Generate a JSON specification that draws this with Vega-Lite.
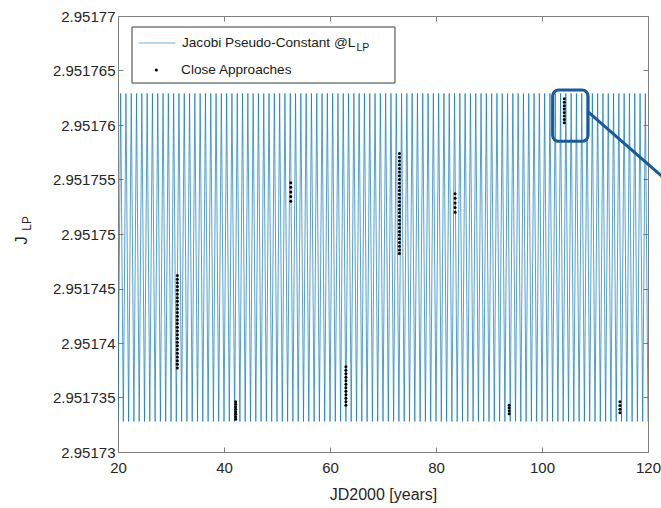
{
  "$schema": "https://vega.github.io/schema/vega-lite/v6.json",
  "autosize": {"type": "none"},
  "padding": {"left": 118, "top": 16, "right": 13, "bottom": 56},
  "width": 530,
  "height": 436,
  "background": "white",
  "config": {
    "font": "Liberation Sans",
    "view": {"stroke": "#808080", "strokeWidth": 1},
    "axis": {
      "grid": false,
      "domain": false,
      "tickColor": "#808080",
      "tickSize": -5,
      "labelFlush": false,
      "labelFontSize": 15,
      "labelColor": "#262626",
      "labelPadding": 8,
      "titleFontSize": 16,
      "titleFontWeight": "normal",
      "titleColor": "#262626"
    },
    "legend": {
      "orient": "none",
      "title": null,
      "direction": "vertical",
      "padding": 0,
      "clipHeight": 16,
      "labelFontSize": 13.6,
      "labelColor": "#1a1a1a",
      "labelLimit": 400
    }
  },
  "datasets": {
    "jacobi": [
      {"t":20,"J":2.9517328},{"t":20.5,"J":2.9517629},{"t":21,"J":2.9517328},{"t":21.5,"J":2.9517629},{"t":22,"J":2.9517328},{"t":22.5,"J":2.9517629},{"t":23,"J":2.9517328},{"t":23.5,"J":2.9517629},{"t":24,"J":2.9517328},{"t":24.5,"J":2.9517629},
      {"t":25,"J":2.9517328},{"t":25.5,"J":2.9517629},{"t":26,"J":2.9517328},{"t":26.5,"J":2.9517629},{"t":27,"J":2.9517328},{"t":27.5,"J":2.9517629},{"t":28,"J":2.9517328},{"t":28.5,"J":2.9517629},{"t":29,"J":2.9517328},{"t":29.5,"J":2.9517629},
      {"t":30,"J":2.9517328},{"t":30.5,"J":2.9517629},{"t":31,"J":2.9517328},{"t":31.5,"J":2.9517629},{"t":32,"J":2.9517328},{"t":32.5,"J":2.9517629},{"t":33,"J":2.9517328},{"t":33.5,"J":2.9517629},{"t":34,"J":2.9517328},{"t":34.5,"J":2.9517629},
      {"t":35,"J":2.9517328},{"t":35.5,"J":2.9517629},{"t":36,"J":2.9517328},{"t":36.5,"J":2.9517629},{"t":37,"J":2.9517328},{"t":37.5,"J":2.9517629},{"t":38,"J":2.9517328},{"t":38.5,"J":2.9517629},{"t":39,"J":2.9517328},{"t":39.5,"J":2.9517629},
      {"t":40,"J":2.9517328},{"t":40.5,"J":2.9517629},{"t":41,"J":2.9517328},{"t":41.5,"J":2.9517629},{"t":42,"J":2.9517328},{"t":42.5,"J":2.9517629},{"t":43,"J":2.9517328},{"t":43.5,"J":2.9517629},{"t":44,"J":2.9517328},{"t":44.5,"J":2.9517629},
      {"t":45,"J":2.9517328},{"t":45.5,"J":2.9517629},{"t":46,"J":2.9517328},{"t":46.5,"J":2.9517629},{"t":47,"J":2.9517328},{"t":47.5,"J":2.9517629},{"t":48,"J":2.9517328},{"t":48.5,"J":2.9517629},{"t":49,"J":2.9517328},{"t":49.5,"J":2.9517629},
      {"t":50,"J":2.9517328},{"t":50.5,"J":2.9517629},{"t":51,"J":2.9517328},{"t":51.5,"J":2.9517629},{"t":52,"J":2.9517328},{"t":52.5,"J":2.9517629},{"t":53,"J":2.9517328},{"t":53.5,"J":2.9517629},{"t":54,"J":2.9517328},{"t":54.5,"J":2.9517629},
      {"t":55,"J":2.9517328},{"t":55.5,"J":2.9517629},{"t":56,"J":2.9517328},{"t":56.5,"J":2.9517629},{"t":57,"J":2.9517328},{"t":57.5,"J":2.9517629},{"t":58,"J":2.9517328},{"t":58.5,"J":2.9517629},{"t":59,"J":2.9517328},{"t":59.5,"J":2.9517629},
      {"t":60,"J":2.9517328},{"t":60.5,"J":2.9517629},{"t":61,"J":2.9517328},{"t":61.5,"J":2.9517629},{"t":62,"J":2.9517328},{"t":62.5,"J":2.9517629},{"t":63,"J":2.9517328},{"t":63.5,"J":2.9517629},{"t":64,"J":2.9517328},{"t":64.5,"J":2.9517629},
      {"t":65,"J":2.9517328},{"t":65.5,"J":2.9517629},{"t":66,"J":2.9517328},{"t":66.5,"J":2.9517629},{"t":67,"J":2.9517328},{"t":67.5,"J":2.9517629},{"t":68,"J":2.9517328},{"t":68.5,"J":2.9517629},{"t":69,"J":2.9517328},{"t":69.5,"J":2.9517629},
      {"t":70,"J":2.9517328},{"t":70.5,"J":2.9517629},{"t":71,"J":2.9517328},{"t":71.5,"J":2.9517629},{"t":72,"J":2.9517328},{"t":72.5,"J":2.9517629},{"t":73,"J":2.9517328},{"t":73.5,"J":2.9517629},{"t":74,"J":2.9517328},{"t":74.5,"J":2.9517629},
      {"t":75,"J":2.9517328},{"t":75.5,"J":2.9517629},{"t":76,"J":2.9517328},{"t":76.5,"J":2.9517629},{"t":77,"J":2.9517328},{"t":77.5,"J":2.9517629},{"t":78,"J":2.9517328},{"t":78.5,"J":2.9517629},{"t":79,"J":2.9517328},{"t":79.5,"J":2.9517629},
      {"t":80,"J":2.9517328},{"t":80.5,"J":2.9517629},{"t":81,"J":2.9517328},{"t":81.5,"J":2.9517629},{"t":82,"J":2.9517328},{"t":82.5,"J":2.9517629},{"t":83,"J":2.9517328},{"t":83.5,"J":2.9517629},{"t":84,"J":2.9517328},{"t":84.5,"J":2.9517629},
      {"t":85,"J":2.9517328},{"t":85.5,"J":2.9517629},{"t":86,"J":2.9517328},{"t":86.5,"J":2.9517629},{"t":87,"J":2.9517328},{"t":87.5,"J":2.9517629},{"t":88,"J":2.9517328},{"t":88.5,"J":2.9517629},{"t":89,"J":2.9517328},{"t":89.5,"J":2.9517629},
      {"t":90,"J":2.9517328},{"t":90.5,"J":2.9517629},{"t":91,"J":2.9517328},{"t":91.5,"J":2.9517629},{"t":92,"J":2.9517328},{"t":92.5,"J":2.9517629},{"t":93,"J":2.9517328},{"t":93.5,"J":2.9517629},{"t":94,"J":2.9517328},{"t":94.5,"J":2.9517629},
      {"t":95,"J":2.9517328},{"t":95.5,"J":2.9517629},{"t":96,"J":2.9517328},{"t":96.5,"J":2.9517629},{"t":97,"J":2.9517328},{"t":97.5,"J":2.9517629},{"t":98,"J":2.9517328},{"t":98.5,"J":2.9517629},{"t":99,"J":2.9517328},{"t":99.5,"J":2.9517629},
      {"t":100,"J":2.9517328},{"t":100.5,"J":2.9517629},{"t":101,"J":2.9517328},{"t":101.5,"J":2.9517629},{"t":102,"J":2.9517328},{"t":102.5,"J":2.9517629},{"t":103,"J":2.9517328},{"t":103.5,"J":2.9517629},{"t":104,"J":2.9517328},{"t":104.5,"J":2.9517629},
      {"t":105,"J":2.9517328},{"t":105.5,"J":2.9517629},{"t":106,"J":2.9517328},{"t":106.5,"J":2.9517629},{"t":107,"J":2.9517328},{"t":107.5,"J":2.9517629},{"t":108,"J":2.9517328},{"t":108.5,"J":2.9517629},{"t":109,"J":2.9517328},{"t":109.5,"J":2.9517629},
      {"t":110,"J":2.9517328},{"t":110.5,"J":2.9517629},{"t":111,"J":2.9517328},{"t":111.5,"J":2.9517629},{"t":112,"J":2.9517328},{"t":112.5,"J":2.9517629},{"t":113,"J":2.9517328},{"t":113.5,"J":2.9517629},{"t":114,"J":2.9517328},{"t":114.5,"J":2.9517629},
      {"t":115,"J":2.9517328},{"t":115.5,"J":2.9517629},{"t":116,"J":2.9517328},{"t":116.5,"J":2.9517629},{"t":117,"J":2.9517328},{"t":117.5,"J":2.9517629},{"t":118,"J":2.9517328},{"t":118.5,"J":2.9517629},{"t":119,"J":2.9517328},{"t":119.5,"J":2.9517629},
      {"t":120,"J":2.9517328}
    ],
    "approaches": [
      {"t":31.2,"J":2.9517377},{"t":31.2,"J":2.95173804},{"t":31.2,"J":2.95173838},{"t":31.2,"J":2.95173872},{"t":31.2,"J":2.95173906},{"t":31.2,"J":2.9517394},{"t":31.2,"J":2.95173974},{"t":31.2,"J":2.95174008},{"t":31.2,"J":2.95174042},{"t":31.2,"J":2.95174076},
      {"t":31.2,"J":2.9517411},{"t":31.2,"J":2.95174144},{"t":31.2,"J":2.95174178},{"t":31.2,"J":2.95174212},{"t":31.2,"J":2.95174246},{"t":31.2,"J":2.9517428},{"t":31.2,"J":2.95174314},{"t":31.2,"J":2.95174348},{"t":31.2,"J":2.95174382},{"t":31.2,"J":2.95174416},
      {"t":31.2,"J":2.9517445},{"t":31.2,"J":2.95174484},{"t":31.2,"J":2.95174518},{"t":31.2,"J":2.95174552},{"t":31.2,"J":2.95174586},{"t":31.2,"J":2.9517462},
      {"t":42.2,"J":2.951733},{"t":42.2,"J":2.95173323},{"t":42.2,"J":2.95173346},{"t":42.2,"J":2.95173369},{"t":42.2,"J":2.95173392},{"t":42.2,"J":2.95173415},{"t":42.2,"J":2.95173438},{"t":42.2,"J":2.95173461},
      {"t":52.6,"J":2.951753},{"t":52.6,"J":2.95175343},{"t":52.6,"J":2.95175385},{"t":52.6,"J":2.95175428},{"t":52.6,"J":2.9517547},
      {"t":63.0,"J":2.9517343},{"t":63.0,"J":2.95173462},{"t":63.0,"J":2.95173494},{"t":63.0,"J":2.95173526},{"t":63.0,"J":2.95173558},{"t":63.0,"J":2.9517359},{"t":63.0,"J":2.95173622},{"t":63.0,"J":2.95173654},{"t":63.0,"J":2.95173686},{"t":63.0,"J":2.95173718},{"t":63.0,"J":2.9517375},{"t":63.0,"J":2.95173782},
      {"t":73.1,"J":2.9517482},{"t":73.1,"J":2.95174854},{"t":73.1,"J":2.95174888},{"t":73.1,"J":2.95174922},{"t":73.1,"J":2.95174956},{"t":73.1,"J":2.9517499},{"t":73.1,"J":2.95175024},{"t":73.1,"J":2.95175058},{"t":73.1,"J":2.95175092},{"t":73.1,"J":2.95175126},
      {"t":73.1,"J":2.9517516},{"t":73.1,"J":2.95175194},{"t":73.1,"J":2.95175228},{"t":73.1,"J":2.95175262},{"t":73.1,"J":2.95175296},{"t":73.1,"J":2.9517533},{"t":73.1,"J":2.95175364},{"t":73.1,"J":2.95175398},{"t":73.1,"J":2.95175432},{"t":73.1,"J":2.95175466},
      {"t":73.1,"J":2.951755},{"t":73.1,"J":2.95175534},{"t":73.1,"J":2.95175568},{"t":73.1,"J":2.95175602},{"t":73.1,"J":2.95175636},{"t":73.1,"J":2.9517567},{"t":73.1,"J":2.95175704},{"t":73.1,"J":2.95175738},
      {"t":83.6,"J":2.951752},{"t":83.6,"J":2.95175243},{"t":83.6,"J":2.95175285},{"t":83.6,"J":2.95175328},{"t":83.6,"J":2.9517537},
      {"t":93.8,"J":2.9517335},{"t":93.8,"J":2.95173377},{"t":93.8,"J":2.95173403},{"t":93.8,"J":2.9517343},
      {"t":104.2,"J":2.9517602},{"t":104.2,"J":2.95176051},{"t":104.2,"J":2.95176083},{"t":104.2,"J":2.95176114},{"t":104.2,"J":2.95176146},{"t":104.2,"J":2.95176177},{"t":104.2,"J":2.95176209},{"t":104.2,"J":2.9517624},
      {"t":114.7,"J":2.9517336},{"t":114.7,"J":2.95173393},{"t":114.7,"J":2.95173427},{"t":114.7,"J":2.9517346}
    ],
    "zoomBox": [{"t0":102.0,"t1":108.7,"J0":2.9517585,"J1":2.9517632}],
    "callout": [{"t0":108.7,"J0":2.9517612,"t1":124.0,"J1":2.9517547}]
  },
  "layer": [
    {
      "data": {"values": [{}]},
      "mark": {"type": "rect", "fill": "#ffffff", "stroke": "#3a3a3a", "strokeWidth": 1},
      "encoding": {
        "x": {
          "datum": 22.64, "type": "quantitative",
          "scale": {"domain": [20, 120], "nice": false, "zero": false},
          "axis": {"orient": "bottom", "values": [20, 40, 60, 80, 100, 120], "format": "d", "title": "JD2000 [years]", "labelPadding": 13, "titlePadding": 11}
        },
        "x2": {"datum": 72.26},
        "y": {
          "datum": 2.95176899, "type": "quantitative",
          "scale": {"domain": [2.95173, 2.95177], "nice": false, "zero": false},
          "axis": {
            "orient": "left",
            "values": [2.95173, 2.951735, 2.95174, 2.951745, 2.95175, 2.951755, 2.95176, 2.951765, 2.95177],
            "format": ".6~f",
            "title": "J",
            "titleFontSize": 17,
            "titleX": -92,
            "titleY": 224,
            "titleAngle": 270,
            "titleAlign": "center",
            "titleBaseline": "alphabetic"
          }
        },
        "y2": {"datum": 2.95176385}
      }
    },
    {
      "data": {"name": "jacobi"},
      "mark": {"type": "line", "strokeWidth": 0.8, "opacity": 0.85, "clip": true},
      "encoding": {
        "x": {"field": "t", "type": "quantitative", "axis": null},
        "y": {"field": "J", "type": "quantitative", "axis": null},
        "stroke": {
          "datum": "Jacobi Pseudo-Constant @L",
          "type": "nominal",
          "scale": {"range": ["#0072BD"]},
          "legend": {
            "legendX": 20,
            "legendY": 19,
            "symbolType": "stroke",
            "symbolSize": 1369,
            "symbolStrokeWidth": 1,
            "symbolOpacity": 0.55,
            "labelOffset": 6
          }
        }
      }
    },
    {
      "data": {"name": "approaches"},
      "mark": {"type": "point", "filled": true, "size": 9, "opacity": 1},
      "encoding": {
        "x": {"field": "t", "type": "quantitative", "axis": {"orient": "top", "values": [20, 40, 60, 80, 100, 120], "labels": false, "title": null}},
        "y": {"field": "J", "type": "quantitative", "axis": {"orient": "right", "values": [2.95173, 2.951735, 2.95174, 2.951745, 2.95175, 2.951755, 2.95176, 2.951765, 2.95177], "labels": false, "title": null}},
        "fill": {
          "datum": "Close Approaches",
          "type": "nominal",
          "scale": {"range": ["#000000"]},
          "legend": {
            "legendX": 31.5,
            "legendY": 46,
            "symbolType": "circle",
            "symbolSize": 10,
            "symbolStrokeWidth": 0,
            "labelOffset": 18
          }
        }
      }
    },
    {
      "data": {"name": "zoomBox"},
      "mark": {"type": "rect", "filled": false, "stroke": "#1b5a96", "strokeWidth": 3, "cornerRadius": 6},
      "encoding": {
        "x": {"field": "t0", "type": "quantitative", "axis": null},
        "x2": {"field": "t1"},
        "y": {"field": "J0", "type": "quantitative", "axis": null},
        "y2": {"field": "J1"}
      }
    },
    {
      "data": {"name": "callout"},
      "mark": {"type": "rule", "stroke": "#1b5a96", "strokeWidth": 3},
      "encoding": {
        "x": {"field": "t0", "type": "quantitative", "axis": null},
        "x2": {"field": "t1"},
        "y": {"field": "J0", "type": "quantitative", "axis": null},
        "y2": {"field": "J1"}
      }
    },
    {
      "data": {"values": [{"sub": "LP"}]},
      "mark": {"type": "text", "fontSize": 10.5, "align": "left", "baseline": "alphabetic", "color": "#1a1a1a"},
      "encoding": {
        "text": {"field": "sub"},
        "x": {"datum": 65.0, "type": "quantitative", "axis": null},
        "y": {"datum": 2.9517668, "type": "quantitative", "axis": null}
      }
    },
    {
      "data": {"values": [{"sub": "LP"}]},
      "mark": {"type": "text", "fontSize": 12, "align": "left", "baseline": "alphabetic", "angle": 270, "color": "#262626"},
      "encoding": {
        "text": {"field": "sub"},
        "x": {"datum": 3.6, "type": "quantitative", "axis": null},
        "y": {"datum": 2.9517503, "type": "quantitative", "axis": null}
      }
    }
  ],
  "resolve": {"axis": {"x": "independent", "y": "independent"}}
}
